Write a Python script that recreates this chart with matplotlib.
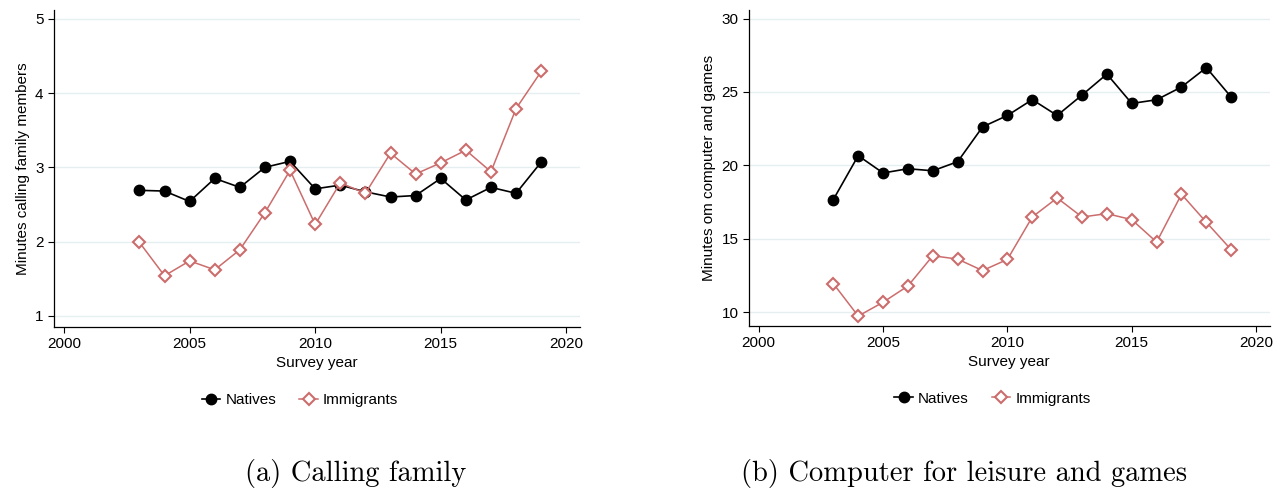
import matplotlib
matplotlib.use('Agg')
import matplotlib.pyplot as plt

years = list(range(2003, 2020))

# (a) calling family
call_natives = [2.69, 2.68, 2.54, 2.85, 2.73, 3.00, 3.08, 2.71, 2.76, 2.67,
                2.60, 2.62, 2.85, 2.56, 2.73, 2.65, 3.07]
call_immig = [1.99, 1.54, 1.74, 1.62, 1.89, 2.39, 2.96, 2.23, 2.79, 2.65,
              3.19, 2.91, 3.06, 3.23, 2.94, 3.79, 4.29]

# (b) computer for leisure and games
comp_natives = [17.67, 20.66, 19.48, 19.77, 19.63, 20.25, 22.62, 23.40, 24.48, 23.40,
                24.79, 26.22, 24.22, 24.47, 25.34, 26.66, 24.65]
comp_immig = [11.94, 9.73, 10.67, 11.78, 13.84, 13.61, 12.83, 13.59, 16.48, 17.78,
              16.48, 16.71, 16.30, 14.77, 18.03, 16.12, 14.25]

plt.rcParams['font.family'] = ['Liberation Sans', 'DejaVu Sans']
red = '#cc6c6c'

fig = plt.figure(figsize=(12.8, 4.91), dpi=100)
ax1 = fig.add_axes([0.0422, 0.334, 0.411, 0.646])
ax2 = fig.add_axes([0.585, 0.336, 0.407, 0.644])

panels = [
    (ax1, call_natives, call_immig, [1, 2, 3, 4, 5], (0.85, 5.12),
     'Minutes calling family members', '(a) Calling family', 0.278),
    (ax2, comp_natives, comp_immig, [10, 15, 20, 25, 30], (9.05, 30.6),
     'Minutes om computer and games', '(b) Computer for leisure and games', 0.753),
]

for ax, nat, imm, yt, ylim, ylab, cap, capx in panels:
    ax.plot(years, nat, color='black', lw=1.2, marker='o', ms=7.5,
            label='Natives', zorder=3)
    ax.plot(years, imm, color=red, lw=1.1, marker='D', ms=6.5, mfc='white',
            mec=red, mew=1.5, label='Immigrants', zorder=3)
    ax.set_xlim(1999.6, 2020.55)
    ax.set_ylim(*ylim)
    ax.set_xticks([2000, 2005, 2010, 2015, 2020])
    ax.set_yticks(yt)
    ax.yaxis.grid(True, color='#e6eff0', lw=1.0)
    ax.set_axisbelow(True)
    for s in ['top', 'right']:
        ax.spines[s].set_visible(False)
    for s in ['left', 'bottom']:
        ax.spines[s].set_linewidth(0.9)
    ax.tick_params(labelsize=11, length=4, width=0.8)
    ax.set_xlabel('Survey year', fontsize=11, labelpad=3)
    ax.set_ylabel(ylab, fontsize=11, labelpad=4)
    ax.legend(loc='center', bbox_to_anchor=(0.468, -0.23), ncol=2,
              frameon=False, fontsize=11, handlelength=1.2, handletextpad=0.35,
              columnspacing=1.5)
    fig.text(capx, 0.035, cap, ha='center', va='center',
             fontsize=20.5, family='cmr10')

fig.savefig('out.png', dpi=100)
